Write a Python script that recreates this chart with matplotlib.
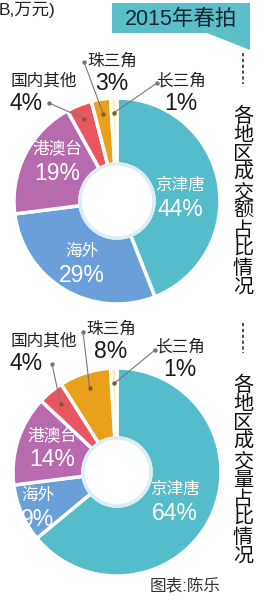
import numpy as np
import matplotlib
matplotlib.use("Agg")
import matplotlib.pyplot as plt
from matplotlib.patches import Circle, Polygon

plt.rcParams["font.family"] = ["Liberation Sans", "Noto Sans CJK SC", "DejaVu Sans"]

# data
regions = ["京津唐", "海外", "港澳台", "国内其他", "珠三角", "长三角"]
amount_share = [44, 29, 19, 4, 3, 1]   # 成交额占比 (%)
volume_share = [64, 9, 14, 4, 8, 1]    # 成交量占比 (%)
colors = ["#55bccb", "#6a9fd9", "#b86aae", "#e8575f", "#e9a11c", "#f6efc0"]

W, H = 266, 600
fig = plt.figure(figsize=(W / 100, H / 100), dpi=100)
ax = fig.add_axes([0, 0, 1, 1])


def Y(py):
    # pixel row -> data y (y up)
    return H - py


def donut(values, cx, cy, r, hole, inside_pos, outside_pos):
    wedges, _ = ax.pie(
        values,
        colors=colors,
        startangle=90,
        counterclock=False,
        radius=r,
        center=(cx, Y(cy)),
        wedgeprops=dict(width=r - hole, edgecolor="white", linewidth=2.5),
    )
    ax.add_patch(Circle((cx, Y(cy)), hole, facecolor="white",
                        edgecolor="#dceef5", linewidth=2.5, zorder=3))
    # labels inside the big wedges
    for i, (x, y) in inside_pos.items():
        ax.text(x, Y(y), regions[i], color="white", fontsize=12,
                ha="center", va="center")
        ax.text(x, Y(y + 24), f"{values[i]}%", color="white", fontsize=16.5,
                ha="center", va="center")
    # small wedges with leader lines
    for i, (tx, ty, dx, dy, ha) in outside_pos.items():
        w = wedges[i]
        mid = np.deg2rad((w.theta1 + w.theta2) / 2)
        rr = r - (r - hole) * 0.22
        ex, ey = cx + rr * np.cos(mid), Y(cy) + rr * np.sin(mid)
        ax.plot([dx, ex], [Y(dy), ey], color="#777777", lw=0.8, zorder=4)
        ax.plot([dx], [Y(dy)], "o", color="#777777", ms=2.2, zorder=4)
        ax.plot([ex], [ey], "o", color="#8a5a2a", ms=2.2, zorder=4)
        ax.text(tx, Y(ty), regions[i], color="#222222", fontsize=12,
                ha=ha, va="center")
        px = tx + 15 if ha == "left" else tx
        ax.text(px, Y(ty + 22), f"{values[i]}%", color="#1a1a1a",
                fontsize=16.5, ha="center", va="center")


donut(amount_share, 117, 201, 103, 37,
      {0: (180, 185), 1: (82, 251), 2: (57, 149)},
      {3: (11, 81, 49, 103, "left"),
       4: (112, 61, 84, 62, "center"),
       5: (181, 81, 157, 83, "center")})

donut(volume_share, 117, 472, 104, 34,
      {0: (175, 489), 1: (38, 495), 2: (52, 436)},
      {3: (11, 341, 52, 364, "left"),
       4: (111, 329, 83, 332, "center"),
       5: (180, 347, 155, 350, "center")})

# title tag
ax.add_patch(Polygon([(112, Y(3)), (250, Y(3)), (250, Y(50)), (207, Y(33)),
                      (112, Y(33))], closed=True, facecolor="#5bbecb",
                     edgecolor="none"))
ax.text(181, Y(19), "2015年春拍", color="#15262c", fontsize=15.5,
        ha="center", va="center")

# dashed separators and vertical captions
for y0, y1 in [(53, 84), (323, 353)]:
    ax.plot([243, 243], [Y(y0), Y(y1)], color="#333333", lw=1.2,
            linestyle=(0, (2, 1.5)))

for top, text in [(107, "各地区成交额占比情况"), (376, "各地区成交量占比情况")]:
    for k, ch in enumerate(text):
        ax.text(243, Y(top + 9.5 + k * 19), ch, color="#111111", fontsize=14.5,
                ha="center", va="center")

ax.text(-1, Y(10), "B,万元)", color="#222222", fontsize=12.5,
        ha="left", va="center")
ax.text(185, Y(585), "图表:陈乐", color="#333333", fontsize=12,
        ha="center", va="center")

ax.set_xlim(0, W)
ax.set_ylim(0, H)
ax.set_aspect("auto")
ax.axis("off")

fig.savefig("out.png", dpi=100, facecolor="white")
